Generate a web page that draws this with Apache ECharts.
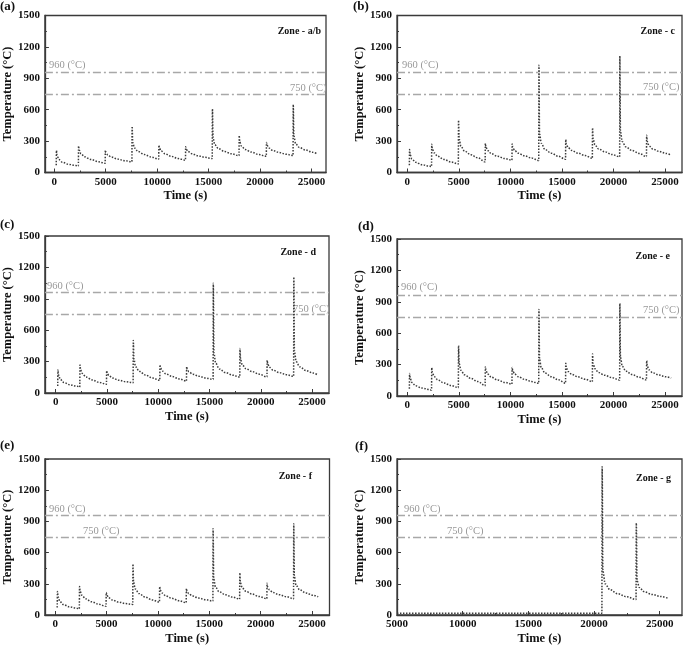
<!DOCTYPE html>
<html>
<head>
<meta charset="utf-8">
<script src="https://cdn.jsdelivr.net/npm/echarts@6/dist/echarts.min.js"></script>
<style>
html,body{margin:0;padding:0;background:#fff;}
#chart{width:685px;height:646px;}
</style>
</head>
<body>
<div id="chart"></div>
<script>
// ---------------- DATA ----------------
// shared time stamps (s) for zones a/b, c, d, e, f
const timeS = [
  200,220,280,450,800,1400,2100,
  2350,2370,2430,2600,2950,3550,4250,
  4950,4970,5030,5200,5550,6150,6850,
  7550,7570,7630,7800,8150,8750,9450,
  10150,10170,10230,10400,10750,11350,12050,
  12750,12770,12830,13000,13350,13950,14650,
  15350,15370,15430,15600,15950,16550,17250,
  17950,17970,18030,18200,18550,19150,19850,
  20600,20620,20680,20850,21200,21800,22500,
  23200,23220,23280,23450,23800,24400,25100,
  25600
];
const tempZoneAB = [
  70,210,165,125,98,78,67,
  62,254,215,180,150,125,104,
  88,213,190,168,148,128,113,
  102,442,290,235,200,172,147,
  128,261,230,205,180,155,133,
  118,245,222,200,180,160,145,
  133,607,330,265,228,200,178,
  160,353,290,250,220,195,172,
  155,286,260,235,212,192,175,
  162,649,350,275,240,215,193,
  175
];
const tempZoneC = [
  70,219,170,128,98,75,62,
  56,270,225,188,155,125,100,
  82,499,320,250,205,170,140,
  102,277,240,210,180,155,133,
  118,273,240,212,185,160,138,
  115,1024,370,280,220,185,155,
  127,315,270,238,210,185,162,
  135,426,320,265,225,198,172,
  150,1113,390,295,245,210,182,
  152,356,295,255,225,202,182,
  165
];
const tempZoneD = [
  67,223,172,130,100,78,64,
  57,267,222,186,153,125,101,
  83,213,188,165,143,122,108,
  99,502,320,250,207,172,143,
  121,270,238,210,183,158,134,
  114,251,226,203,180,160,143,
  130,1049,380,285,230,195,170,
  153,426,320,268,232,205,180,
  153,312,275,245,218,195,175,
  159,1107,400,300,250,215,190,
  169
];
const tempZoneE = [
  70,216,168,128,98,76,63,
  57,270,225,187,154,125,100,
  80,480,310,245,202,168,138,
  99,280,242,210,180,153,130,
  114,273,240,212,185,160,138,
  121,827,350,270,220,185,155,
  122,312,268,235,207,183,160,
  137,401,310,260,225,198,175,
  153,884,370,285,238,205,180,
  153,337,285,250,222,200,183,
  172
];
const tempZoneF = [
  72,226,175,132,100,78,65,
  60,273,228,190,156,127,103,
  83,216,190,167,145,125,110,
  102,490,315,250,207,172,145,
  124,273,240,212,185,160,138,
  118,254,228,205,183,163,147,
  134,830,350,270,225,195,172,
  153,404,310,262,228,202,178,
  156,305,270,242,216,195,176,
  156,878,370,285,242,212,190,
  175
];
// zone g has its own time stamps
const timeG = [
  5000,7000,9000,11000,13000,15000,17000,19000,20600,
  20620,20680,20850,21200,21800,22500,
  23200,23220,23280,23450,23800,24400,25100,
  25600
];
const tempZoneG = [
  18,18,18,18,18,18,18,18,18,
  1425,420,300,245,205,175,
  148,884,330,265,225,198,178,
  162
];
const xTickLabels = [0,5000,10000,15000,20000,25000];
const xTickLabelsG = [5000,10000,15000,20000,25000];
const xMinorTicks = [2500,7500,12500,17500,22500];
const xMinorTicksG = [7500,12500,17500,22500];
const limitTemps = [960, 750];
const panelLetters = ['(a)','(b)','(c)','(d)','(e)','(f)'];
const zoneNames = ['Zone - a/b','Zone - c','Zone - d','Zone - e','Zone - f','Zone - g'];

// ---------------- LAYOUT ----------------
const FONT = '"Liberation Serif", "Times New Roman", serif';
const plain = v => String(v);
const panels = [
  {grid:{left:42,top:15.5,width:284,height:157}, xmin:-900, xmax:26400, t:timeS, v:tempZoneAB, ticks:xTickLabels, minor:xMinorTicks,
   letter:[0,7], zone:[321,31], l960:[49,65], l750:[290,88]},
  {grid:{left:397,top:15.5,width:285,height:157}, xmin:-1000, xmax:26650, t:timeS, v:tempZoneC, ticks:xTickLabels, minor:xMinorTicks,
   letter:[353,7], zone:[675,31.5], l960:[402,65], l750:[643,87.5]},
  {grid:{left:40,top:236,width:289,height:157}, xmin:-1050, xmax:26650, t:timeS, v:tempZoneD, ticks:xTickLabels, minor:xMinorTicks,
   letter:[0,225], zone:[316,252.5], l960:[47,286.5], l750:[293,309.5]},
  {grid:{left:397,top:239,width:285,height:157}, xmin:-1000, xmax:26650, t:timeS, v:tempZoneE, ticks:xTickLabels, minor:xMinorTicks,
   letter:[358,227], zone:[670,256.5], l960:[401,287.5], l750:[643,310]},
  {grid:{left:40.5,top:459,width:289,height:157}, xmin:-1000, xmax:26700, t:timeS, v:tempZoneF, ticks:xTickLabels, minor:xMinorTicks,
   letter:[0,446], zone:[312,476.5], l960:[49,509.5], l750:[83,531]},
  {grid:{left:397,top:459,width:285,height:156}, xmin:5000, xmax:26700, t:timeG, v:tempZoneG, ticks:xTickLabelsG, minor:xMinorTicksG,
   letter:[355,447], zone:[671,478], l960:[404,509.5], l750:[447,531]}
];

const grids = [], xAxes = [], yAxes = [], series = [], graphics = [];
panels.forEach((p, i) => {
  grids.push(Object.assign({show:true, borderColor:'#3a3a3a', borderWidth:1.3, backgroundColor:'transparent'}, p.grid));
  xAxes.push({
    type:'value', gridIndex:i, min:p.xmin, max:p.xmax,
    name:'Time (s)', nameLocation:'middle', nameGap:17,
    nameTextStyle:{fontFamily:FONT, fontWeight:'bold', fontSize:12.5, color:'#111'},
    axisLine:{show:true, onZero:false, lineStyle:{color:'#3a3a3a', width:1.3}},
    axisTick:{show:true, inside:true, length:4, customValues:p.ticks, lineStyle:{color:'#3a3a3a'}},
    axisLabel:{show:true, customValues:p.ticks, formatter:plain, margin:4, fontFamily:FONT, fontWeight:'bold', fontSize:11, color:'#111'},
    splitLine:{show:false}
  });
  yAxes.push({
    type:'value', gridIndex:i, min:0, max:1500, interval:300,
    name:'Temperature (°C)', nameLocation:'middle', nameGap:27,
    nameTextStyle:{fontFamily:FONT, fontWeight:'bold', fontSize:12.5, color:'#111'},
    axisLine:{show:true, onZero:false, lineStyle:{color:'#3a3a3a', width:1.3}},
    axisTick:{show:true, inside:true, length:4, lineStyle:{color:'#3a3a3a'}},
    minorTick:{show:true, splitNumber:2, length:2, lineStyle:{color:'#3a3a3a'}},
    axisLabel:{margin:5, formatter:plain, fontFamily:FONT, fontWeight:'bold', fontSize:11, color:'#111'},
    splitLine:{show:false}
  });
  series.push({
    type:'line', xAxisIndex:i, yAxisIndex:i,
    data:p.t.map((t, k) => [t, p.v[k]]),
    showSymbol:false, smooth:0.35, smoothMonotone:'x',
    lineStyle:{color:'#3c3c3c', width:1.5, type:'dotted'},
    markLine:{
      silent:true, symbol:'none', animation:false,
      label:{show:false},
      lineStyle:{color:'#a8a8a8', width:1.3, type:[8,3,2,3]},
      data:limitTemps.map(v => ({yAxis:v}))
    },
    z:3
  });
  graphics.push({type:'text', x:p.letter[0], y:p.letter[1],
    style:{text:panelLetters[i], font:'bold 13px ' + FONT, fill:'#111', textAlign:'left', textVerticalAlign:'middle'}});
  graphics.push({type:'text', x:p.zone[0], y:p.zone[1],
    style:{text:zoneNames[i], font:'bold 10px ' + FONT, fill:'#111', textAlign:'right', textVerticalAlign:'middle'}});
  graphics.push({type:'text', x:p.l960[0], y:p.l960[1],
    style:{text:limitTemps[0] + ' (°C)', font:'10.5px ' + FONT, fill:'#999', textAlign:'left', textVerticalAlign:'middle'}});
  graphics.push({type:'text', x:p.l750[0], y:p.l750[1],
    style:{text:limitTemps[1] + ' (°C)', font:'10.5px ' + FONT, fill:'#999', textAlign:'left', textVerticalAlign:'middle'}});
});
// minor ticks on x axes
panels.forEach((p, i) => {
  xAxes.push({
    type:'value', gridIndex:i, min:p.xmin, max:p.xmax, position:'bottom',
    axisLine:{show:false}, axisLabel:{show:false},
    axisTick:{show:true, inside:true, length:2, customValues:p.minor, lineStyle:{color:'#3a3a3a'}},
    splitLine:{show:false}
  });
});

const chart = echarts.init(document.getElementById('chart'), null, {renderer:'canvas'});
chart.setOption({
  animation:false,
  backgroundColor:'#fff',
  grid:grids, xAxis:xAxes, yAxis:yAxes, series:series,
  graphic:graphics
});
</script>
</body>
</html>
